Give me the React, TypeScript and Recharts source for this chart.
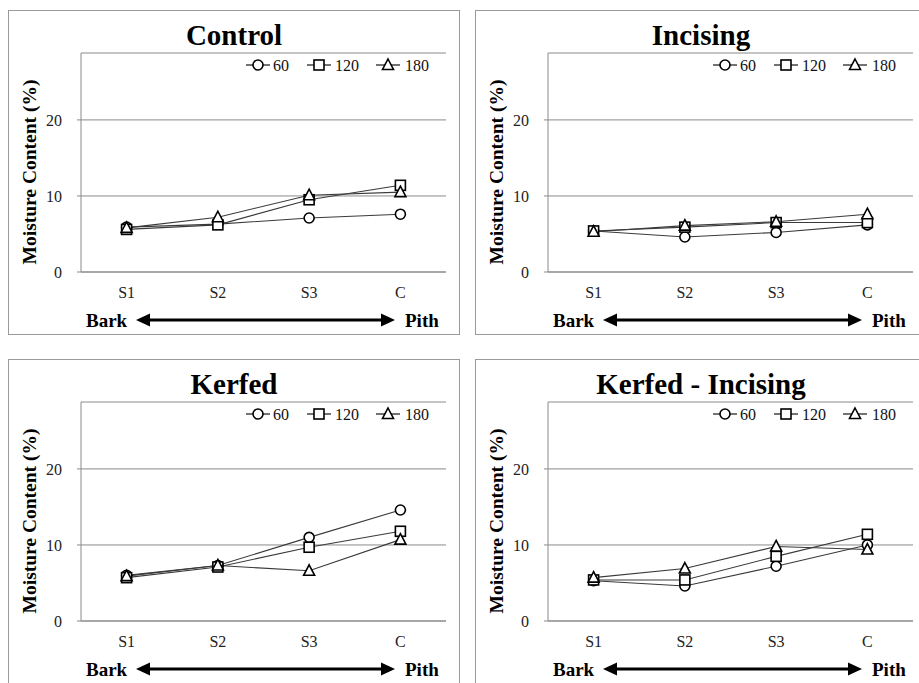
import React from 'react';
import { LineChart, Line, XAxis, YAxis, CartesianGrid } from 'recharts';

const categories = ['S1', 'S2', 'S3', 'C'];
const seriesNames = ['60', '120', '180'];
const yTicks = [0, 10, 20];
const yMax = 28.8;

const control60 = [5.9, 6.3, 7.1, 7.6];
const control120 = [5.6, 6.2, 9.5, 11.4];
const control180 = [5.8, 7.2, 10.1, 10.5];

const incising60 = [5.4, 4.6, 5.2, 6.2];
const incising120 = [5.4, 5.9, 6.5, 6.5];
const incising180 = [5.3, 6.1, 6.6, 7.6];

const kerfed60 = [6.0, 7.3, 11.0, 14.6];
const kerfed120 = [5.7, 7.1, 9.7, 11.8];
const kerfed180 = [5.9, 7.3, 6.6, 10.7];

const kerfInc60 = [5.3, 4.6, 7.2, 10.0];
const kerfInc120 = [5.4, 5.4, 8.5, 11.4];
const kerfInc180 = [5.7, 6.9, 9.8, 9.4];

const FONT = '"Liberation Serif", "Times New Roman", serif';
const GRID = '#8a8a8a';

type Shape = 'circle' | 'square' | 'triangle';
const shapes: Shape[] = ['circle', 'square', 'triangle'];

function marker(shape: Shape, cx: number, cy: number, key?: any) {
  const common = { fill: '#fff', stroke: '#000', strokeWidth: 1.6 };
  if (shape === 'circle') return <circle key={key} cx={cx} cy={cy} r={5} {...common} />;
  if (shape === 'square') return <rect key={key} x={cx - 5} y={cy - 5} width={10} height={10} {...common} />;
  return <path key={key} d={`M${cx},${cy - 6} L${cx + 5.5},${cy + 4.5} L${cx - 5.5},${cy + 4.5} Z`} {...common} />;
}

function makeDot(shape: Shape) {
  return (p: any) => {
    if (p.cx == null || p.cy == null) return <g key={p.index} />;
    return marker(shape, p.cx, p.cy, `${shape}-${p.index}`);
  };
}

function buildData(a: number[], b: number[], c: number[]) {
  return categories.map((cat, i) => ({ cat, s0: a[i], s1: b[i], s2: c[i] }));
}

const W = 452;
const H = 325;

function Panel({ title, left, top, data }: { title: string; left: number; top: number; data: any[] }) {
  const legendX = [250, 311, 380];
  const legendTextX = [265, 327, 397];
  return (
    <div style={{ position: 'absolute', left, top, width: W, height: H }}>
      <div style={{ position: 'absolute', left: 0, top: 0, width: W, height: H, border: '1px solid #9a9a9a', boxSizing: 'border-box' }} />
      <div style={{ position: 'absolute', left: 0, top: 0 }}>
        <LineChart width={W} height={H} data={data} margin={{ top: 43, right: 14, left: 0, bottom: 33 }}>
          <CartesianGrid horizontal={true} vertical={false} stroke={GRID} strokeWidth={1} />
          <XAxis
            dataKey="cat"
            height={30}
            padding={{ left: 45.6, right: 45.6 }}
            axisLine={{ stroke: GRID }}
            tickLine={false}
            tickSize={0}
            tickMargin={15}
            tick={{ fontFamily: FONT, fontSize: 16, fill: '#222' }}
            interval={0}
          />
          <YAxis
            width={73}
            domain={[0, yMax]}
            ticks={yTicks}
            allowDataOverflow={true}
            axisLine={{ stroke: GRID }}
            tickLine={{ stroke: GRID }}
            tickSize={4}
            tickMargin={15}
            tick={{ fontFamily: FONT, fontSize: 16, fill: '#222' }}
          />
          {shapes.map((s, i) => (
            <Line
              key={s}
              type="linear"
              dataKey={`s${i}`}
              name={seriesNames[i]}
              stroke="#3a3a3a"
              strokeWidth={1.1}
              dot={makeDot(s)}
              activeDot={false}
              isAnimationActive={false}
            />
          ))}
        </LineChart>
      </div>
      <svg width={W} height={H} style={{ position: 'absolute', left: 0, top: 0, pointerEvents: 'none' }}>
        <text x={226} y={35} textAnchor="middle" fontFamily={FONT} fontWeight="bold" fontSize={29} fill="#000">{title}</text>
        {shapes.map((s, i) => (
          <g key={s}>
            <line x1={legendX[i] - 12} x2={legendX[i] + 12} y1={55} y2={55} stroke="#000" strokeWidth={1.1} />
            {marker(s, legendX[i], 55)}
            <text x={legendTextX[i]} y={60.5} fontFamily={FONT} fontSize={16} fill="#111">{seriesNames[i]}</text>
          </g>
        ))}
        <text transform="translate(21,162) rotate(-90)" textAnchor="middle" dominantBaseline="central" fontFamily={FONT} fontWeight="bold" fontSize={19.5} fill="#000">Moisture Content (%)</text>
        <text x={78} y={317} fontFamily={FONT} fontWeight="bold" fontSize={19} fill="#000">Bark</text>
        <line x1={138} x2={377} y1={310} y2={310} stroke="#000" strokeWidth={3} />
        <polygon points="128,310 142,303.5 142,316.5" fill="#000" />
        <polygon points="387,310 373,303.5 373,316.5" fill="#000" />
        <text x={397} y={317} fontFamily={FONT} fontWeight="bold" fontSize={19} fill="#000">Pith</text>
      </svg>
    </div>
  );
}

export default function App() {
  return (
    <div style={{ position: 'absolute', left: 0, top: 0, width: 919, height: 683, overflow: 'hidden', background: '#fff' }}>
      <Panel title="Control" left={8} top={10} data={buildData(control60, control120, control180)} />
      <Panel title="Incising" left={475} top={10} data={buildData(incising60, incising120, incising180)} />
      <Panel title="Kerfed" left={8} top={359} data={buildData(kerfed60, kerfed120, kerfed180)} />
      <Panel title="Kerfed - Incising" left={475} top={359} data={buildData(kerfInc60, kerfInc120, kerfInc180)} />
    </div>
  );
}
